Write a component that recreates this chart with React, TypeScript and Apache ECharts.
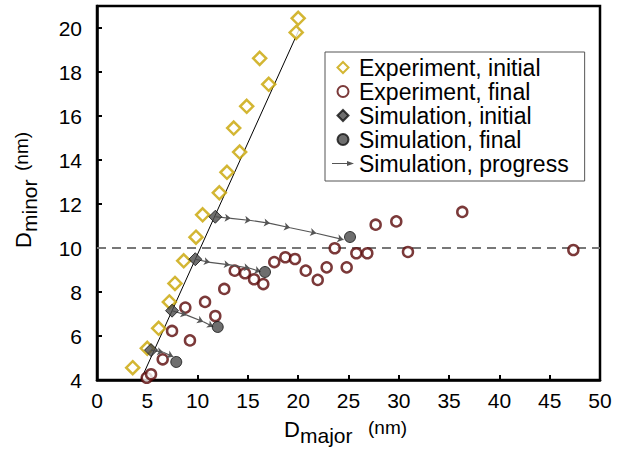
import React, { useEffect, useRef } from "react";
import * as echarts from "echarts";

// ---- data ----
const xTicks = [0, 5, 10, 15, 20, 25, 30, 35, 40, 45, 50];
const yTicks = [4, 6, 8, 10, 12, 14, 16, 18, 20];

const expInitial: number[][] = [
  [3.55, 4.56], [5.0, 5.44], [6.13, 6.35], [7.19, 7.55], [7.75, 8.39], [8.62, 9.42],
  [9.84, 10.49], [10.5, 11.51], [12.16, 12.51], [12.92, 13.44], [14.18, 14.36],
  [13.59, 15.45], [14.88, 16.44], [17.07, 17.44], [16.17, 18.62], [19.8, 19.8], [20.0, 20.44],
];

const expFinal: number[][] = [
  [4.94, 4.1], [5.37, 4.26], [6.53, 4.94], [7.46, 6.23], [8.78, 7.29], [9.24, 5.8],
  [10.74, 7.55], [11.76, 6.91], [12.65, 8.14], [13.69, 8.97], [14.71, 8.85], [15.61, 8.58],
  [16.53, 8.36], [17.62, 9.36], [18.72, 9.58], [19.68, 9.5], [20.75, 8.97], [21.94, 8.55],
  [22.83, 9.12], [23.63, 9.99], [24.82, 9.12], [25.78, 9.76], [26.87, 9.76], [27.7, 11.06],
  [29.75, 11.21], [30.91, 9.82], [36.31, 11.64], [47.35, 9.91],
];

const simInitial: number[][] = [[5.37, 5.36], [7.46, 7.15], [9.77, 9.49], [11.76, 11.42]];
const simFinal: number[][] = [[7.88, 4.82], [12.0, 6.41], [16.7, 8.91], [25.15, 10.5]];

const progressPaths: number[][][] = [
  [[11.76, 11.42], [13.3, 11.35], [15.3, 11.25], [17.2, 11.12], [19.2, 10.92], [21.8, 10.67], [24.5, 10.38]],
  [[9.77, 9.49], [11.23, 9.35], [13.22, 9.23], [15.2, 9.08], [16.27, 8.92]],
  [[7.46, 7.15], [8.92, 6.95], [10.57, 6.65], [11.56, 6.42]],
  [[5.37, 5.36], [6.59, 5.26], [7.58, 5.06]],
];

const guideLine: number[][] = [[4.35, 4], [20.1, 19.94]];
const dMinorLevel = 10;

const names = [
  "Experiment, initial",
  "Experiment, final",
  "Simulation, initial",
  "Simulation, final",
  "Simulation, progress",
];

const FONT = "'Liberation Sans', Arial, Helvetica, sans-serif";
const YELLOW = "#c8a400";
const MAROON = "#5a0808";
const SIM = "#4a4a4a";

const DIAMOND_ICON = "path://M5,0 L10,5 L5,10 L0,5 Z";
const CIRCLE_ICON = "path://M0,5 A5,5 0 1,1 10,5 A5,5 0 1,1 0,5 Z";
const ARROW_ICON = "path://M0,4.4 L15,4.4 L15,2.5 L22,5 L15,7.5 L15,5.6 L0,5.6 Z";

export default function App() {
  const ref = useRef<HTMLDivElement>(null);

  useEffect(() => {
    if (!ref.current) return;
    const chart = echarts.init(ref.current, undefined, { renderer: "svg" });

    const segments: any[] = [];
    progressPaths.forEach((p) => {
      for (let i = 0; i < p.length - 1; i++) {
        segments.push({ coords: [p[i], p[i + 1]] });
      }
    });

    const xMin = xTicks[0];
    const xMax = xTicks[xTicks.length - 1];

    const option: any = {
      animation: false,
      backgroundColor: "#fff",
      grid: {
        left: 97,
        right: 19,
        top: 6,
        bottom: 70,
        show: true,
        borderColor: "#000",
        borderWidth: 2.5,
        backgroundColor: "transparent",
      },
      xAxis: {
        type: "value",
        min: xMin,
        max: xMax,
        interval: 5,
        axisLine: { show: true, lineStyle: { color: "#000", width: 2.5 } },
        axisTick: { show: true, inside: true, length: 5, lineStyle: { color: "#000", width: 2 } },
        axisLabel: { fontSize: 21, color: "#000", fontFamily: FONT, margin: 10 },
        splitLine: { show: false },
      },
      yAxis: {
        type: "value",
        min: yTicks[0],
        max: 21,
        interval: 2,
        axisLine: { show: true, lineStyle: { color: "#000", width: 2.5 } },
        axisTick: { show: true, inside: true, length: 5, lineStyle: { color: "#000", width: 2 } },
        axisLabel: {
          fontSize: 21,
          color: "#000",
          fontFamily: FONT,
          margin: 15,
          showMaxLabel: false,
          formatter: (v: number) => (yTicks.includes(v) ? String(v) : ""),
        },
        splitLine: { show: false },
      },
      legend: {
        orient: "vertical",
        left: 325,
        top: 52,
        padding: [4, 16, 6, 7],
        itemGap: 1,
        itemWidth: 22,
        itemHeight: 11,
        symbolKeepAspect: true,
        backgroundColor: "#fff",
        borderColor: "#555",
        borderWidth: 1,
        borderRadius: 0,
        textStyle: { fontSize: 23, color: "#000", fontFamily: FONT },
        data: [
          { name: names[0], icon: DIAMOND_ICON },
          { name: names[1], icon: CIRCLE_ICON },
          { name: names[2], icon: DIAMOND_ICON },
          { name: names[3], icon: CIRCLE_ICON },
          { name: names[4], icon: ARROW_ICON, itemStyle: { color: "#555", borderWidth: 0 } },
        ],
      },
      series: [
        {
          name: "guide",
          type: "line",
          data: guideLine,
          symbol: "none",
          lineStyle: { color: "#000", width: 1 },
          silent: true,
          z: 1,
        },
        {
          name: "level",
          type: "line",
          data: [[xMin, dMinorLevel], [xMax, dMinorLevel]],
          symbol: "none",
          lineStyle: { color: "#777", width: 2, type: [9, 6] },
          silent: true,
          z: 1,
        },
        {
          name: names[0],
          type: "scatter",
          data: expInitial,
          symbol: "diamond",
          symbolSize: 13,
          itemStyle: { color: "#fff", borderColor: YELLOW, borderWidth: 2.5 },
          z: 2,
        },
        {
          name: names[1],
          type: "scatter",
          data: expFinal,
          symbol: "circle",
          symbolSize: 10,
          itemStyle: { color: "#fff", borderColor: MAROON, borderWidth: 2.5 },
          z: 2,
        },
        {
          name: names[4],
          type: "lines",
          coordinateSystem: "cartesian2d",
          data: segments,
          symbol: ["none", "arrow"],
          symbolSize: 6,
          lineStyle: { color: "#555", width: 1.2, opacity: 1 },
          itemStyle: { color: "#555" },
          z: 3,
        },
        {
          name: names[2],
          type: "scatter",
          data: simInitial,
          symbol: "diamond",
          symbolSize: 13,
          itemStyle: { color: SIM, borderColor: "#111", borderWidth: 1 },
          z: 4,
        },
        {
          name: names[3],
          type: "scatter",
          data: simFinal,
          symbol: "circle",
          symbolSize: 11,
          itemStyle: { color: SIM, borderColor: "#111", borderWidth: 1 },
          z: 4,
        },
      ],
      graphic: [
        { type: "text", x: 284, y: 437 - 0.35 * 22, style: { text: "D", fontSize: 22, fontFamily: FONT, fill: "#000", verticalAlign: "middle", align: "left" } },
        { type: "text", x: 300, y: 443 - 0.35 * 21, style: { text: "major", fontSize: 21, fontFamily: FONT, fill: "#000", verticalAlign: "middle", align: "left" } },
        { type: "text", x: 368, y: 434 - 0.35 * 19, style: { text: "(nm)", fontSize: 19, fontFamily: FONT, fill: "#000", verticalAlign: "middle", align: "left" } },
        {
          type: "group",
          x: 31,
          y: 248,
          rotation: Math.PI / 2,
          children: [
            { type: "text", x: 0, y: -0.35 * 22, style: { text: "D", fontSize: 22, fontFamily: FONT, fill: "#000", verticalAlign: "middle", align: "left" } },
            { type: "text", x: 16, y: 6 - 0.35 * 21, style: { text: "minor", fontSize: 21, fontFamily: FONT, fill: "#000", verticalAlign: "middle", align: "left" } },
            { type: "text", x: 77, y: -3 - 0.35 * 19, style: { text: "(nm)", fontSize: 19, fontFamily: FONT, fill: "#000", verticalAlign: "middle", align: "left" } },
          ],
        },
      ],
    };

    chart.setOption(option);
    return () => chart.dispose();
  }, []);

  return (
    <div
      ref={ref}
      style={{ position: "absolute", left: 0, top: 0, width: 619, height: 450 }}
    />
  );
}
